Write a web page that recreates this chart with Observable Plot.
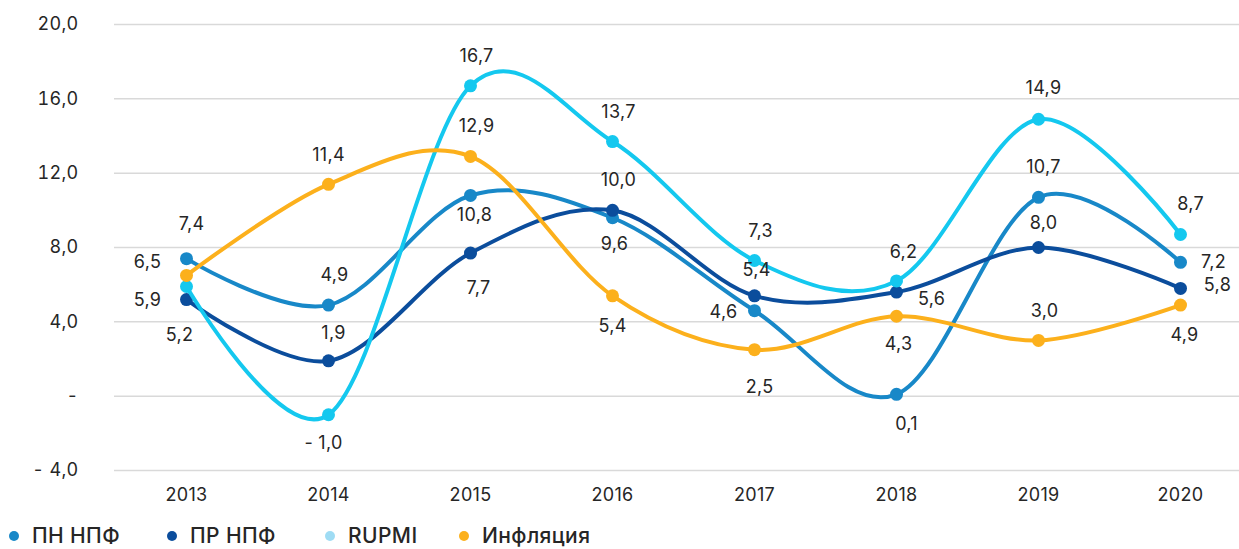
<!DOCTYPE html>
<html>
<head>
<meta charset="utf-8">
<script src="https://cdn.jsdelivr.net/npm/d3@7"></script>
<script src="https://cdn.jsdelivr.net/npm/@observablehq/plot@0.6"></script>
<style>
  html, body { margin: 0; padding: 0; background: #fff; }
  #wrap { width: 1239px; height: 549px; overflow: hidden; font-family: Inter, "Noto Sans", sans-serif; }
  #legend { position: relative; height: 42px; margin-top: 8px; font-size: 21px; font-weight: 500; color: #262626; letter-spacing: 0.4px; }
  .item { position: absolute; top: 0; height: 42px; display: flex; align-items: center; line-height: 1.1; }
  .dot { width: 10px; height: 10px; border-radius: 50%; margin-right: 13px; }
</style>
</head>
<body>
<div id="wrap">
  <div id="chart"></div>
  <div id="legend"></div>
</div>
<script>
// ---- data ----
const years = [2013, 2014, 2015, 2016, 2017, 2018, 2019, 2020];
const seriesNames = ["ПН НПФ", "ПР НПФ", "RUPMI", "Инфляция"];
const pnNpf     = [7.4, 4.9, 10.8, 9.6, 4.6, 0.1, 10.7, 7.2];
const prNpf     = [5.2, 1.9, 7.7, 10.0, 5.4, 5.6, 8.0, 5.8];
const rupmi     = [5.9, -1.0, 16.7, 13.7, 7.3, 6.2, 14.9, 8.7];
const inflation = [6.5, 11.4, 12.9, 5.4, 2.5, 4.3, 3.0, 4.9];
const yTicks = [-4, 0, 4, 8, 12, 16, 20];

// ---- styles (separate from data) ----
const lineColors   = ["#1888c8", "#0b4d9c", "#14c8ef", "#fcb01c"];
const legendColors = ["#1888c8", "#0b4d9c", "#9fdcf4", "#fcb01c"];
const legendLefts  = [9, 167, 325, 459];
// label offsets [dx, dy] relative to each point
const labelOffsets = [
  [[5,-34],[6,-30],[4,20],[2,26],[-31,2],[10,30],[5,-30],[33,0]],
  [[-7,36],[5,-28],[8,35],[6,-30],[2,-26],[35,7],[5,-24],[37,-3]],
  [[-39,14],[-5,28],[6,-30],[6,-29],[6,-29],[7,-29],[5,-31],[10,-30]],
  [[-39,-13],[0,-29],[6,-30],[0,30],[5,38],[2,28],[6,-29],[4,30]]
];

const seriesValues = [pnNpf, prNpf, rupmi, inflation];

const fmt1 = d3.format(".1f");
function ruFmt(v) {
  if (v === 0) return "-";
  const s = fmt1(Math.abs(v)).replace(".", ",");
  return v < 0 ? "- " + s : s;
}

const FS = 18;
const marks = [
  Plot.gridY(yTicks, {stroke: "#d9d9d9", strokeOpacity: 1, strokeWidth: 1.5}),
  Plot.axisY(yTicks, {tickSize: 0, tickPadding: 36, tickFormat: ruFmt, fontSize: FS, label: null}),
  Plot.axisX({tickSize: 0, tickPadding: 18, tickFormat: d => String(d), fontSize: FS, label: null})
];

seriesValues.forEach((vals, si) => {
  const rows = years.map((y, i) => ({year: y, value: vals[i]}));
  marks.push(Plot.line(rows, {x: "year", y: "value", stroke: lineColors[si], strokeWidth: 4, curve: "cardinal", tension: 0}));
  marks.push(Plot.dot(rows, {x: "year", y: "value", r: 6.5, fill: lineColors[si], stroke: "none"}));
});

seriesValues.forEach((vals, si) => {
  years.forEach((y, i) => {
    const [dx, dy] = labelOffsets[si][i];
    marks.push(Plot.text([{year: y, value: vals[i]}], {
      x: "year", y: "value", text: d => ruFmt(d.value),
      dx, dy, fontSize: FS, fill: "#262626", textAnchor: "middle", lineAnchor: "middle"
    }));
  });
});

const chart = Plot.plot({
  width: 1239,
  height: 507,
  marginTop: 24,
  marginBottom: 37,
  marginLeft: 114,
  marginRight: 0,
  x: {type: "point", domain: years, range: [185, 1180], padding: 0},
  y: {domain: [-4, 20]},
  style: {fontFamily: "Inter, 'Noto Sans', sans-serif", fontSize: FS + "px", color: "#262626", background: "#fff", letterSpacing: "0.3px"},
  marks
});
chart.style.display = "block";
document.getElementById("chart").appendChild(chart);

const legend = document.getElementById("legend");
seriesNames.forEach((name, i) => {
  const item = document.createElement("div");
  item.className = "item";
  item.style.left = legendLefts[i] + "px";
  const dot = document.createElement("span");
  dot.className = "dot";
  dot.style.background = legendColors[i];
  const label = document.createElement("span");
  label.textContent = name;
  item.appendChild(dot);
  item.appendChild(label);
  legend.appendChild(item);
});
</script>
</body>
</html>
